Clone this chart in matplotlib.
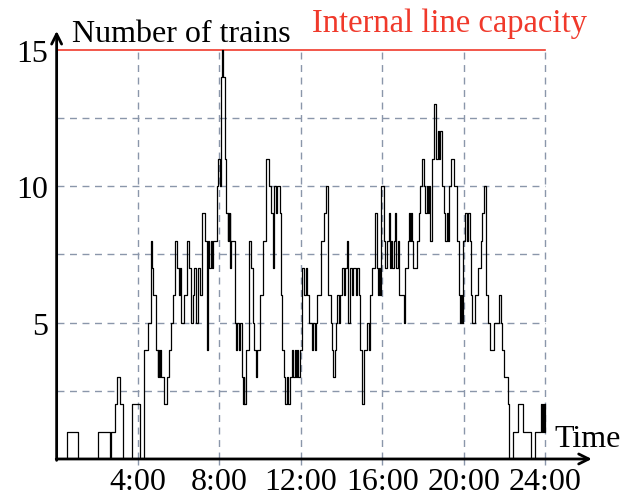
import numpy as np
import matplotlib
matplotlib.use('Agg')
import matplotlib.pyplot as plt

## trains on the line over one day (hour of change, number of trains from then on)

t = [0, 0.5, 1.03, 2.03, 2.6, 2.67, 2.85, 2.95, 3.13, 3.24, 3.7, 4.1, 4.3, 4.49, 4.62, 4.68, 4.73,
     4.89, 4.97, 5.0, 5.05, 5.1, 5.13, 5.27, 5.42, 5.52, 5.63, 5.71, 5.83, 5.91, 5.99, 6.07, 6.12,
     6.24, 6.4, 6.5, 6.58, 6.69, 6.77, 6.86, 6.97, 7.07, 7.15, 7.31, 7.38, 7.44, 7.51, 7.57, 7.64,
     7.7, 7.87, 7.95, 8.03, 8.08, 8.15, 8.2, 8.29, 8.31, 8.33, 8.4, 8.44, 8.48, 8.52, 8.54, 8.57,
     8.75, 8.82, 8.88, 8.94, 9.0, 9.1, 9.14, 9.2, 9.23, 9.3, 9.43, 9.55, 9.63, 9.71, 9.79, 9.87,
     9.99, 10.12, 10.28, 10.45, 10.53, 10.61, 10.66, 10.69, 10.76, 10.84, 10.99, 11.02, 11.1,
     11.18, 11.23, 11.34, 11.39, 11.46, 11.56, 11.62, 11.7, 11.75, 11.82, 11.88, 11.95, 12.08,
     12.16, 12.24, 12.32, 12.4, 12.53, 12.61, 12.7, 12.76, 12.81, 12.98, 13.14, 13.22, 13.35,
     13.46, 13.54, 13.59, 13.66, 13.71, 13.79, 13.87, 13.95, 14.03, 14.1, 14.18, 14.28, 14.33,
     14.4, 14.5, 14.58, 14.7, 14.78, 14.88, 14.93, 15.01, 15.1, 15.26, 15.35, 15.42, 15.5, 15.63,
     15.75, 15.8, 15.84, 15.87, 15.96, 16.07, 16.15, 16.22, 16.32, 16.36, 16.43, 16.5, 16.56,
     16.65, 16.7, 16.77, 16.84, 17.05, 17.1, 17.26, 17.3, 17.35, 17.42, 17.46, 17.5, 17.7, 17.82,
     17.87, 17.95, 18.03, 18.11, 18.18, 18.25, 18.3, 18.36, 18.44, 18.57, 18.63, 18.72, 18.77,
     18.84, 18.93, 19.05, 19.1, 19.16, 19.22, 19.26, 19.39, 19.55, 19.66, 19.75, 19.8, 19.85,
     19.91, 19.99, 20.07, 20.15, 20.22, 20.32, 20.37, 20.43, 20.56, 20.69, 20.86, 20.92, 21.02,
     21.08, 21.18, 21.3, 21.51, 21.74, 21.84, 21.87, 22.0, 22.16, 22.23, 22.44, 22.65, 22.93,
     23.3, 23.5, 23.79, 23.84, 23.9, 23.95, 23.98, 24]
trains = [0, 1, 0, 1, 0, 1, 2, 3, 2, 0, 2, 0, 4, 5, 8, 7, 6,
          4, 3, 4, 3, 4, 3, 2, 3, 4, 5, 6, 8, 7, 6, 7, 5,
          6, 8, 7, 5, 6, 7, 5, 7, 6, 9, 8, 4, 8, 7, 8, 7,
          8, 10, 11, 10, 14, 15, 14, 11, 10, 9, 8, 9, 8, 9, 7, 8,
          5, 4, 5, 4, 5, 3, 2, 3, 2, 4, 8, 7, 5, 4, 3, 4,
          6, 8, 11, 10, 9, 7, 9, 10, 9, 10, 9, 6, 4,
          3, 2, 3, 2, 3, 4, 3, 4, 3, 4, 3, 4, 7,
          6, 7, 6, 5, 4, 5, 4, 5, 6, 8, 9, 10, 6,
          5, 4, 3, 4, 5, 6, 5, 6, 7, 6, 7, 8, 5,
          7, 6, 7, 6, 7, 6, 4, 2, 4, 5, 4, 6, 7, 9,
          7, 6, 7, 6, 10, 8, 7, 8, 9, 7, 8, 7, 8,
          9, 7, 8, 6, 5, 7, 8, 9, 8, 9, 8, 7, 8, 9,
          10, 11, 10, 9, 10, 9, 10, 8, 11, 13, 11, 12, 11,
          12, 10, 9, 8, 9, 8, 10, 11, 10, 8, 6, 5, 6,
          5, 8, 9, 8, 9, 8, 6, 5, 6, 7, 8, 9, 10,
          6, 5, 4, 5, 6, 5, 4, 3, 2, 0, 1, 2, 1,
          0, 1, 2, 1, 2, 1, 2, 2]

capacity = 15
xticks = [4, 8, 12, 16, 20, 24]
xlabels = ['4:00', '8:00', '12:00', '16:00', '20:00', '24:00']
yticks = [5, 10, 15]

plt.rcParams['font.family'] = ['Liberation Serif', 'DejaVu Serif']
fs = 23
gridc = '#8a96aa'
red = '#f0392b'

fig = plt.figure(figsize=(6.23, 5.02), dpi=100)
ax = fig.add_axes([0.0909, 0.0837, 0.859, 0.8526])
ax.set_xlim(0, 26.3)
ax.set_ylim(0, 15.68)

for s in ax.spines.values():
    s.set_visible(False)

# dashed grid, only inside the 0..24 x 0..15 box
for x in xticks:
    ax.plot([x, x], [0, capacity], color=gridc, lw=1, ls=(0, (5, 4)), zorder=1)
for y in [2.5, 5, 7.5, 10, 12.5]:
    ax.plot([0, 24], [y, y], color=gridc, lw=1, ls=(0, (5, 4)), zorder=1)

ax.plot([0, 24], [capacity, capacity], color=red, lw=1.2, zorder=2)
ax.step(t, trains, where='post', color='black', lw=0.9, zorder=3)

# axes with arrow heads
ax.annotate('', xy=(26.3, 0), xytext=(-0.02, 0),
            arrowprops=dict(arrowstyle='->', lw=2, color='black', mutation_scale=18,
                            shrinkA=0, shrinkB=0), annotation_clip=False)
ax.annotate('', xy=(0, 15.68), xytext=(0, -0.05),
            arrowprops=dict(arrowstyle='->', lw=2, color='black', mutation_scale=18,
                            shrinkA=0, shrinkB=0), annotation_clip=False)

ax.set_xticks(xticks)
ax.set_xticklabels(xlabels, fontsize=fs)
ax.set_yticks(yticks)
ax.set_yticklabels([str(v) for v in yticks], fontsize=fs)
ax.tick_params(axis='x', length=4, width=1, color=gridc, pad=2)
ax.tick_params(axis='y', length=0, pad=6)

ax.text(0.75, 15.3, 'Number of trains', fontsize=fs, va='baseline', ha='left')
ax.text(12.55, 15.68, 'Internal line capacity', fontsize=23.5, va='baseline', ha='left', color=red)
ax.text(24.45, 0.48, 'Time', fontsize=fs, va='baseline', ha='left')

fig.savefig('out.png', dpi=100)
